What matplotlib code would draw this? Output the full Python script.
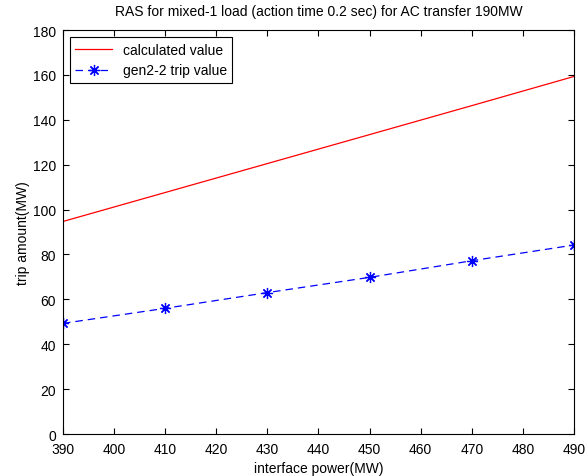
import matplotlib
matplotlib.use("Agg")
import matplotlib.pyplot as plt

plt.rcParams['font.family'] = ['Liberation Sans', 'DejaVu Sans']

power = [390, 410, 430, 450, 470, 490]
calculated = [94.7, 107.6, 120.5, 133.4, 146.3, 159.3]
gen_trip = [49.3, 56.0, 63.0, 69.8, 77.2, 84.2]

fig = plt.figure(figsize=(5.87, 4.77), dpi=100)
ax = fig.add_axes([0.1073, 0.088, 0.8705, 0.847])

ax.plot(power, calculated, color='red', lw=0.9, label='calculated value')
# matlab style '*' marker: 8 spokes
ax.plot(power, gen_trip, color='blue', lw=0.9, ls=(0, (6, 4)), marker=(8, 2, 0),
        markersize=8, markeredgewidth=0.9, label='gen2-2 trip value')

ax.set_xlim(390, 490)
ax.set_ylim(0, 180)
ax.set_xticks(range(390, 491, 10))
ax.set_yticks(range(0, 181, 20))
ax.tick_params(direction='in', top=True, right=True, labelsize=10, length=4)
ax.tick_params(axis='x', pad=6)
ax.tick_params(axis='y', pad=5)
for s in ax.spines.values():
    s.set_linewidth(0.8)

ax.set_xlabel('interface power(MW)', fontsize=10, labelpad=3)
ax.set_ylabel('trip amount(MW)', fontsize=10, labelpad=2)
ax.set_title('RAS for mixed-1 load (action time 0.2 sec) for AC transfer 190MW',
             fontsize=10, pad=11)

leg = ax.legend(loc='upper left', fontsize=10, fancybox=False, framealpha=1,
                edgecolor='black', borderaxespad=0.5, handlelength=2.6)
leg.get_frame().set_linewidth(0.8)

fig.savefig('out.png', dpi=100)
